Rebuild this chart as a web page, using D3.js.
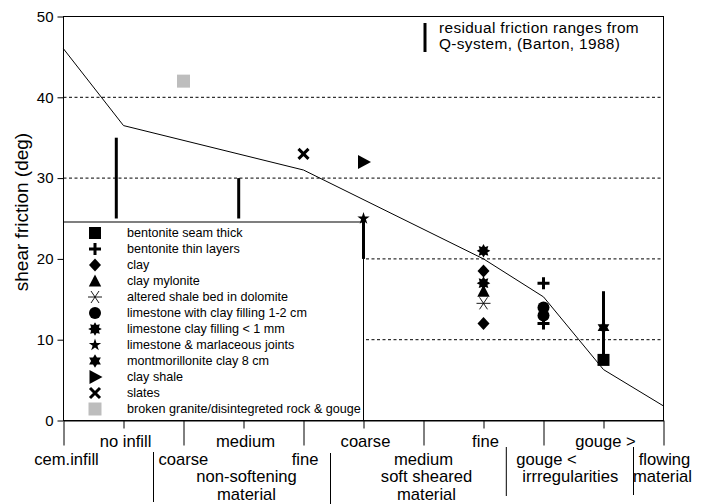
<!DOCTYPE html>
<html>
<head>
<meta charset="utf-8">
<script src="https://cdn.jsdelivr.net/npm/d3@7/dist/d3.min.js"></script>
<style>
  html, body { margin: 0; padding: 0; background: #fff; }
  svg { display: block; font-family: "Liberation Sans", Arial, Helvetica, sans-serif; }
</style>
</head>
<body>
<svg id="chart" width="706" height="504"></svg>
<script>
// Empirical residual friction curve across joint-infill classes
const curveX = [0, 1, 4, 7, 8, 9, 10];
const curveY = [46, 36.5, 31, 20, 15.3, 6.3, 1.8];

// Q-system residual friction ranges (Barton, 1988)
const rangeX = [0.88, 2.92, 5, 9];
const rangeLow = [25, 25, 20, 8];
const rangeHigh = [35, 30, 25, 16];

// Material types (legend order)
const materials = [
  "bentonite seam thick",
  "bentonite thin layers",
  "clay",
  "clay mylonite",
  "altered shale bed in dolomite",
  "limestone with clay filling 1-2 cm",
  "limestone clay filling < 1 mm",
  "limestone & marlaceous joints",
  "montmorillonite clay 8 cm",
  "clay shale",
  "slates",
  "broken granite/disintegreted rock & gouge"
];

// Measured points: material index, infill class position, shear friction (deg)
const pointMaterial = [0, 1, 1, 2, 2, 3, 4, 5, 5, 6, 6, 7, 8, 9, 10, 11];
const pointX        = [9, 8, 8, 7, 7, 7, 7, 8, 8, 7, 7, 5, 9, 5, 4, 2];
const pointY        = [7.5, 17, 12, 18.5, 12, 16, 14.5, 14, 13, 21, 17, 25, 11.5, 32, 33, 42];

// Axis ticks
const yTicks = [0, 10, 20, 30, 40, 50];
const gridValues = [10, 20, 30, 40];
const majorTicks = [0, 2, 4, 6, 8, 10];
const minorTicks = [1, 3, 5, 7, 9];
const upperLabels = ["no infill", "medium", "coarse", "fine", "gouge >"];

const svg = d3.select("#chart");
svg.append("rect").attr("width", 706).attr("height", 504).attr("fill", "#fff");

const x = d3.scaleLinear().domain([0, 10]).range([63.5, 663.5]);
const y = d3.scaleLinear().domain([0, 50]).range([420.5, 16.5]);

// dashed grid
svg.append("g").selectAll("line").data(gridValues).join("line")
  .attr("x1", x(0)).attr("x2", x(10))
  .attr("y1", d => y(d)).attr("y2", d => y(d))
  .attr("stroke", "#000").attr("stroke-width", 1)
  .attr("stroke-dasharray", "3,2.5");

// frame
svg.append("rect")
  .attr("x", x(0)).attr("y", y(50))
  .attr("width", x(10) - x(0)).attr("height", y(0) - y(50))
  .attr("fill", "none").attr("stroke", "#000").attr("stroke-width", 1);

// curve
svg.append("path")
  .datum(curveX.map((d, i) => [d, curveY[i]]))
  .attr("d", d3.line().x(d => x(d[0])).y(d => y(d[1])))
  .attr("fill", "none").attr("stroke", "#000").attr("stroke-width", 1);

// y axis
const yAxis = svg.append("g").attr("transform", `translate(${x(0)},0)`)
  .call(d3.axisLeft(y).tickValues(yTicks).tickSize(6).tickPadding(4).tickSizeOuter(0));
yAxis.select(".domain").remove();
yAxis.selectAll("text").attr("font-size", 15).attr("fill", "#000")
  .attr("font-family", "Liberation Sans, Arial, sans-serif");
yAxis.selectAll("line").attr("stroke", "#000");

svg.append("text")
  .attr("transform", `translate(28,212) rotate(-90)`)
  .attr("text-anchor", "middle")
  .attr("font-size", 19)
  .text("shear friction (deg)");

// x axis: long ticks at class boundaries, short ticks at class centres
const xLong = svg.append("g").attr("transform", `translate(0,${y(0)})`)
  .call(d3.axisBottom(x).tickValues(majorTicks).tickSize(25).tickFormat("").tickSizeOuter(0));
xLong.select(".domain").attr("stroke", "#000");
xLong.selectAll("line").attr("stroke", "#000");
const xShort = svg.append("g").attr("transform", `translate(0,${y(0)})`)
  .call(d3.axisBottom(x).tickValues(minorTicks).tickSize(8).tickFormat("").tickSizeOuter(0));
xShort.select(".domain").remove();
xShort.selectAll("line").attr("stroke", "#000");

// group separators below the axis
const separators = [[1.5, 452, 502], [4.45, 453, 504], [7.38, 447, 496], [9.5, 447, 495]];
svg.append("g").selectAll("line").data(separators).join("line")
  .attr("x1", d => x(d[0])).attr("x2", d => x(d[0]))
  .attr("y1", d => d[1]).attr("y2", d => d[2])
  .attr("stroke", "#000").attr("stroke-width", 1);

const lab = svg.append("g").attr("font-size", 16.6).attr("fill", "#000");
lab.selectAll("text.up").data(upperLabels).join("text")
  .attr("class", "up")
  .attr("x", (d, i) => x(minorTicks[i]) + 2).attr("y", 447)
  .attr("text-anchor", "middle").text(d => d);

function put(t, xv, yv, anchor) {
  lab.append("text").attr("x", xv).attr("y", yv).attr("text-anchor", anchor).text(t);
}
const row2 = 464.5, row3 = 482, row4 = 499.5;
put("cem.infill", x(0) + 3, row2, "middle");
put("coarse", x(1.5) + 5, row2, "start");
put("fine", x(4.45) - 12, row2, "end");
put("non-softening", x(3.05), row3, "middle");
put("material", x(3.05), row4, "middle");
put("medium", x(6), row2, "middle");
put("soft sheared", x(6.05), row3, "middle");
put("material", x(6.05), row4, "middle");
put("gouge <", x(7.38) + 10, row2, "start");
put("irrregularities", x(7.38) + 16, row3, "start");
put("flowing", x(10) + 1, row2, "middle");
put("material", x(10) - 1, row3, "middle");

// marker shapes
function starPath(n, ro, ri, rot) {
  const pts = [];
  for (let k = 0; k < 2 * n; k++) {
    const r = k % 2 === 0 ? ro : ri;
    const a = rot + Math.PI * k / n;
    pts.push([r * Math.sin(a), -r * Math.cos(a)]);
  }
  return "M" + pts.map(p => p[0].toFixed(2) + "," + p[1].toFixed(2)).join("L") + "Z";
}
const shapes = [
  { d: "M-6,-6H6V6H-6Z", fill: "#000" },
  { d: "M-6,0H6M0,-6V6", fill: "none", stroke: "#000", sw: 3 },
  { d: "M0,-6.5L6,0L0,6.5L-6,0Z", fill: "#000" },
  { d: "M0,-6.5L6.2,5.5H-6.2Z", fill: "#000" },
  { d: "M-7,0H7M-4,-6L4,6M4,-6L-4,6", fill: "none", stroke: "#000", sw: 0.9 },
  { circle: 6, fill: "#000" },
  { d: starPath(8, 6.8, 4.2, 0), fill: "#000" },
  { d: starPath(5, 6.5, 2.5, 0), fill: "#000" },
  { d: starPath(6, 6.8, 3.9, 0), fill: "#000" },
  { d: "M-5.5,-7L7.5,0L-5.5,7Z", fill: "#000" },
  { d: "M-5,-5L5,5M5,-5L-5,5", fill: "none", stroke: "#000", sw: 3 },
  { d: "M-6.5,-6.5H6.5V6.5H-6.5Z", fill: "#bdbdbd" }
];
function drawShape(g, s) {
  if (s.circle) {
    g.append("circle").attr("r", s.circle).attr("fill", s.fill);
  } else {
    g.append("path").attr("d", s.d).attr("fill", s.fill)
      .attr("stroke", s.stroke || "none").attr("stroke-width", s.sw || 0);
  }
}

// legend box
const legX = x(0), legTop = 222, legRight = x(5), rowH = 16;
svg.append("rect")
  .attr("x", legX).attr("y", legTop)
  .attr("width", legRight - legX).attr("height", y(0) - legTop)
  .attr("fill", "#fff").attr("stroke", "#000").attr("stroke-width", 1);
const leg = svg.append("g");
materials.forEach((m, i) => {
  const cy = 233 + rowH * i;
  const g = leg.append("g").attr("transform", `translate(95,${cy})`);
  drawShape(g, shapes[i]);
  leg.append("text").attr("x", 127).attr("y", cy).attr("dy", "0.35em")
    .attr("font-size", 12.6).text(m);
});

// residual friction ranges
svg.append("g").selectAll("line").data(rangeX).join("line")
  .attr("x1", d => x(d)).attr("x2", d => x(d))
  .attr("y1", (d, i) => y(rangeLow[i])).attr("y2", (d, i) => y(rangeHigh[i]))
  .attr("stroke", "#000").attr("stroke-width", 3);

// data points
pointMaterial.forEach((m, i) => {
  const g = svg.append("g").attr("transform", `translate(${x(pointX[i])},${y(pointY[i])})`);
  drawShape(g, shapes[m]);
});

// range key
svg.append("line").attr("x1", 425).attr("x2", 425).attr("y1", 23).attr("y2", 52)
  .attr("stroke", "#000").attr("stroke-width", 3);
const key = svg.append("g").attr("font-size", 15.4).attr("letter-spacing", 0.35);
key.append("text").attr("x", 439).attr("y", 33).text("residual friction ranges from");
key.append("text").attr("x", 439).attr("y", 49).text("Q-system, (Barton, 1988)");
</script>
</body>
</html>
